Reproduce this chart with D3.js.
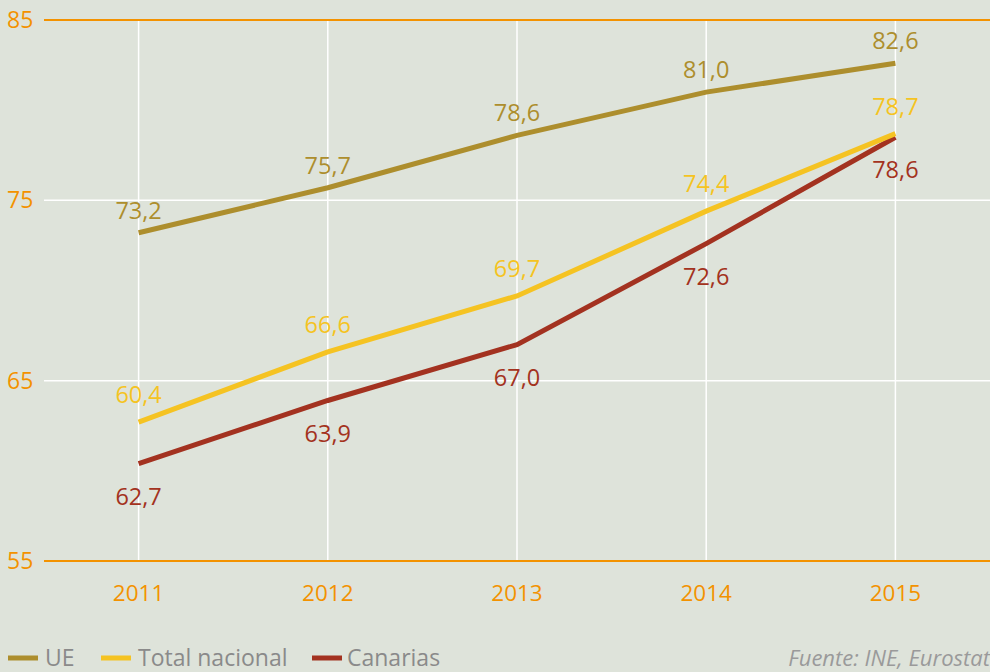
<!DOCTYPE html>
<html>
<head>
<meta charset="utf-8">
<script src="https://cdn.jsdelivr.net/npm/d3@7"></script>
<style>
  body { margin: 0; background: #dee3da; }
  svg { display: block; font-family: "Open Sans", "Noto Sans", sans-serif; }
</style>
</head>
<body>
<div id="chart"></div>
<script>
// data
const years = ["2011", "2012", "2013", "2014", "2015"];
const yTicks = [55, 65, 75, 85];
const ueValues = [73.2, 75.7, 78.6, 81.0, 82.6];
const totalValues = [62.7, 66.6, 69.7, 74.4, 78.7];
const canariasValues = [60.4, 63.9, 67.0, 72.6, 78.5];
// labels as printed in the original (2011 ones appear swapped)
const ueLabels = ["73,2", "75,7", "78,6", "81,0", "82,6"];
const totalLabels = ["60,4", "66,6", "69,7", "74,4", "78,7"];
const canariasLabels = ["62,7", "63,9", "67,0", "72,6", "78,6"];

const width = 990, height = 672;
const orange = "#f39200";

const svg = d3.select("#chart").append("svg")
  .attr("width", width)
  .attr("height", height);

svg.append("rect").attr("width", width).attr("height", height).attr("fill", "#dee3da");

const x = d3.scalePoint()
  .domain(years)
  .range([44, 990])
  .padding(0.5);

const y = d3.scaleLinear()
  .domain([55, 85])
  .range([561, 20]);

// vertical grid
svg.append("g").selectAll("line")
  .data(years)
  .join("line")
  .attr("x1", d => x(d)).attr("x2", d => x(d))
  .attr("y1", y(85)).attr("y2", y(55))
  .attr("stroke", "#fff")
  .attr("stroke-width", 1.5);

// horizontal grid
svg.append("g").selectAll("line")
  .data(yTicks)
  .join("line")
  .attr("x1", 44).attr("x2", width)
  .attr("y1", d => y(d)).attr("y2", d => y(d))
  .attr("stroke", d => (d === 55 || d === 85) ? orange : "#fff")
  .attr("stroke-width", d => (d === 55 || d === 85) ? 2 : 1.5);

// y labels
svg.append("g").selectAll("text")
  .data(yTicks)
  .join("text")
  .attr("x", 7)
  .attr("y", d => y(d))
  .attr("dy", "0.35em")
  .attr("fill", orange)
  .attr("font-size", 23)
  .text(d => d);

// x labels
svg.append("g").selectAll("text")
  .data(years)
  .join("text")
  .attr("x", d => x(d))
  .attr("y", 601)
  .attr("text-anchor", "middle")
  .attr("fill", orange)
  .attr("font-size", 22.5)
  .text(d => d);

const series = [
  { name: "UE", values: ueValues, labels: ueLabels, color: "#ad8e2d", dy: -14 },
  { name: "Total nacional", values: totalValues, labels: totalLabels, color: "#f5c322", dy: -19 },
  { name: "Canarias", values: canariasValues, labels: canariasLabels, color: "#a33220", dy: 41 }
];

const line = d3.line()
  .x((d, i) => x(years[i]))
  .y(d => y(d));

// draw lines bottom-first so UE/Total sit on top as in original
[series[2], series[1], series[0]].forEach(s => {
  svg.append("path")
    .datum(s.values)
    .attr("fill", "none")
    .attr("stroke", s.color)
    .attr("stroke-width", 5)
    .attr("d", line);
});

series.forEach(s => {
  svg.append("g").selectAll("text")
    .data(s.values)
    .join("text")
    .attr("x", (d, i) => x(years[i]))
    .attr("y", d => y(d) + s.dy)
    .attr("text-anchor", "middle")
    .attr("fill", s.color)
    .attr("font-size", 23.5)
    .text((d, i) => s.labels[i]);
});

// legend
const legendX = [8, 101, 312];
series.forEach((s, i) => {
  const lg = svg.append("g").attr("transform", `translate(${legendX[i]},658)`);
  lg.append("line")
    .attr("x1", 0).attr("x2", 30)
    .attr("stroke", s.color)
    .attr("stroke-width", 5);
  lg.append("text")
    .attr("x", i === 2 ? 35 : 37)
    .attr("y", 8)
    .attr("fill", "#8a8a8a")
    .attr("font-size", 23)
    .text(s.name);
});

svg.append("text")
  .attr("x", 990)
  .attr("y", 666)
  .attr("text-anchor", "end")
  .attr("fill", "#9a9a9a")
  .attr("font-size", 22)
  .attr("font-style", "italic")
  .text("Fuente: INE, Eurostat");
</script>
</body>
</html>
